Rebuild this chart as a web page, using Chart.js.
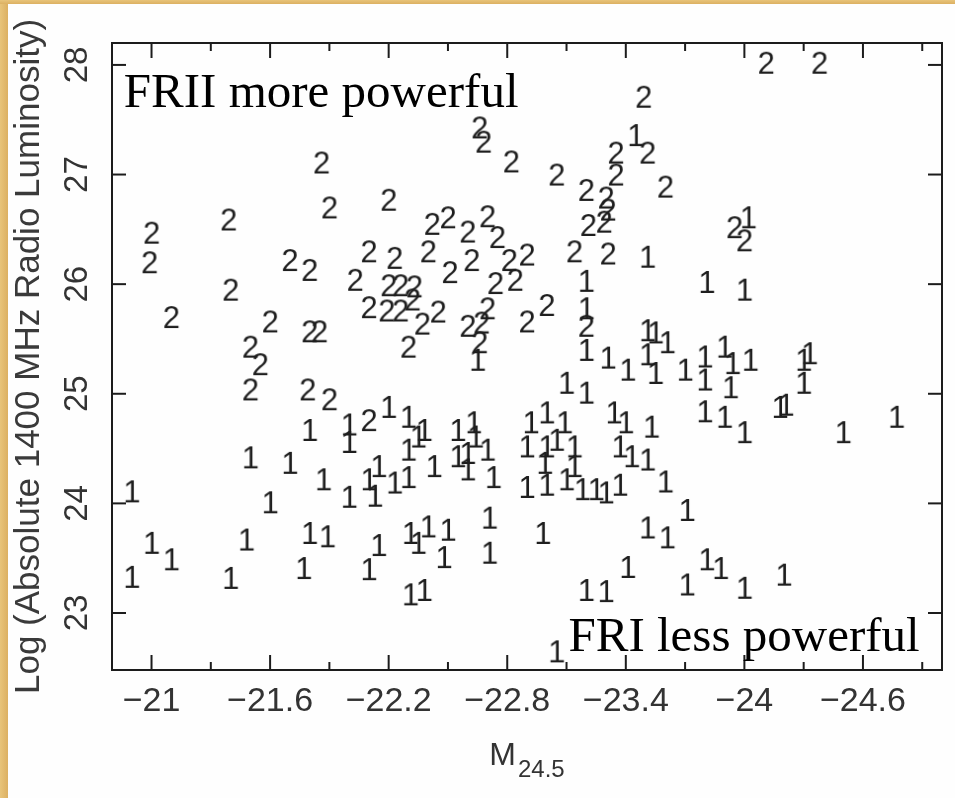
<!DOCTYPE html>
<html>
<head>
<meta charset="utf-8">
<script src="https://cdn.jsdelivr.net/npm/chart.js@4.4.1/dist/chart.umd.min.js"></script>
<style>
  html, body { margin: 0; padding: 0; background: #ffffff; }
  #wrap { position: relative; width: 955px; height: 798px; overflow: hidden; background: #fefefe; }
  #bL { position: absolute; left: 0; top: 0; width: 8px; height: 798px; background: linear-gradient(90deg, #e8c47a, #dcb062); }
  #bT { position: absolute; left: 0; top: 0; width: 955px; height: 4px; background: linear-gradient(180deg, #e8c47a, #dcb062); }
  canvas { position: absolute; left: 0; top: 0; }
</style>
</head>
<body>
<div id="wrap">
  <div id="bL"></div><div id="bT"></div>
  <canvas id="c" width="955" height="798"></canvas>
</div>
<script>
// ---------- data ----------
const fr1X = [-23.45,-24.02,-23.51,-23.20,-23.81,-24.00,-23.20,-22.65,-23.20,-23.31,-23.41,-23.51,-23.55,-23.61,-23.51,-23.55,-23.70,-23.80,-23.80,-23.90,-23.94,-23.93,-24.03,-24.30,-24.33,-24.30,-23.10,-23.20,-23.80,-23.90,-24.00,-24.18,-24.21,-24.50,-24.77,-21.80,-22.00,-22.00,-22.20,-22.30,-21.50,-21.70,-21.87,-22.00,-22.13,-22.10,-22.15,-22.23,-20.90,-21.60,-22.38,-22.35,-22.55,-22.63,-22.64,-22.60,-22.55,-22.60,-22.70,-22.73,-22.30,-22.30,-22.43,-22.92,-23.00,-23.09,-22.90,-23.00,-23.05,-23.14,-22.99,-23.14,-23.00,-22.90,-23.10,-23.18,-23.25,-23.30,-23.37,-23.34,-23.40,-23.53,-23.37,-23.43,-23.51,-23.60,-23.71,-21.00,-21.10,-20.90,-21.48,-21.40,-21.80,-21.89,-21.77,-22.15,-22.10,-22.31,-22.35,-22.40,-22.50,-22.48,-22.71,-22.71,-22.31,-22.38,-22.98,-23.20,-23.30,-23.41,-23.51,-23.61,-23.71,-23.81,-23.88,-24.00,-24.20,-23.05];
const fr1Y = [27.36,26.61,26.25,26.03,26.02,25.95,25.78,25.31,25.40,25.33,25.22,25.58,25.56,25.47,25.36,25.19,25.22,25.34,25.13,25.43,25.28,25.06,25.31,25.31,25.37,25.10,25.10,25.01,24.84,24.79,24.65,24.88,24.90,24.65,24.79,24.67,24.72,24.56,24.88,24.79,24.42,24.37,24.22,24.06,24.07,24.22,24.34,24.19,24.11,24.01,24.67,24.61,24.67,24.74,24.61,24.46,24.43,24.31,24.49,24.24,24.49,24.24,24.34,24.74,24.83,24.74,24.52,24.52,24.58,24.52,24.37,24.34,24.17,24.15,24.22,24.13,24.13,24.10,24.17,24.83,24.74,24.70,24.52,24.43,24.40,24.20,23.94,23.64,23.49,23.33,23.67,23.32,23.73,23.70,23.41,23.62,23.40,23.73,23.64,23.79,23.76,23.51,23.87,23.55,23.17,23.21,23.73,23.21,23.20,23.42,23.78,23.69,23.26,23.49,23.41,23.23,23.35,22.65];

const fr2X = [-24.11,-24.38,-23.49,-22.66,-22.68,-23.51,-23.35,-22.82,-21.86,-23.05,-23.35,-23.60,-23.20,-23.30,-23.31,-22.20,-21.90,-21.39,-22.42,-22.50,-22.60,-22.70,-22.75,-23.21,-23.29,-21.00,-23.95,-24.00,-20.99,-21.70,-21.80,-22.10,-22.23,-22.40,-22.51,-22.62,-22.81,-22.90,-23.14,-23.31,-21.40,-22.03,-22.20,-22.26,-22.33,-22.74,-22.84,-23.00,-21.10,-21.60,-22.10,-22.19,-22.26,-22.32,-22.45,-22.37,-22.70,-22.67,-22.60,-22.90,-23.20,-21.50,-21.55,-21.50,-21.80,-21.85,-22.30,-21.79,-21.90,-22.10,-22.66];
const fr2Y = [28.02,28.02,27.71,27.43,27.30,27.20,27.20,27.12,27.11,27.00,27.00,26.89,26.86,26.79,26.68,26.77,26.70,26.59,26.55,26.61,26.48,26.62,26.43,26.54,26.57,26.47,26.52,26.40,26.20,26.22,26.13,26.30,26.24,26.30,26.11,26.22,26.22,26.27,26.30,26.28,25.95,26.04,25.99,25.99,25.98,26.01,26.04,25.81,25.70,25.66,25.79,25.76,25.76,25.86,25.75,25.64,25.78,25.65,25.62,25.66,25.62,25.43,25.27,25.04,25.57,25.57,25.43,25.04,24.95,24.76,25.47];

const xLabelValues = [-21, -21.6, -22.2, -22.8, -23.4, -24, -24.6];
const xTickLabels  = ['\u221221', '\u221221.6', '\u221222.2', '\u221222.8', '\u221223.4', '\u221224', '\u221224.6'];
const xMinorValues = [-21.3, -21.9, -22.5, -23.1, -23.7, -24.3, -24.9];
const yTickValues  = [23, 24, 25, 26, 27, 28];
const yTickLabels  = ['23', '24', '25', '26', '27', '28'];

const yTitle = 'Log (Absolute 1400 MHz Radio Luminosity)';
const xTitleMain = 'M';
const xTitleSub = '24.5';
const annotTop = { text: 'FRII more powerful', x: -20.86, y: 27.62 };
const annotBottom = { text: 'FRI less powerful', x: -23.11, y: 22.65 };

// ---------- glyph markers ----------
function glyph(ch) {
  const c = document.createElement('canvas');
  c.width = 24; c.height = 32;
  const g = c.getContext('2d');
  g.fillStyle = '#1e1e1e';
  g.font = '31px "Liberation Sans", Arial, sans-serif';
  g.textAlign = 'center';
  g.textBaseline = 'alphabetic';
  g.fillText(ch, 12, 27);
  return c;
}
const g1 = glyph('1');
const g2 = glyph('2');

const pts1 = fr1X.map((x, i) => ({ x, y: fr1Y[i] }));
const pts2 = fr2X.map((x, i) => ({ x, y: fr2Y[i] }));

const INK = '#1c1c1c';

const framePlugin = {
  id: 'frameTicks',
  afterDatasetsDraw(chart) {
    const { ctx, chartArea: a, scales } = chart;
    const xs = scales.x, ys = scales.y;
    ctx.save();
    ctx.strokeStyle = INK;
    ctx.lineWidth = 2;
    ctx.strokeRect(a.left, a.top, a.right - a.left, a.bottom - a.top);
    const line = (x1, y1, x2, y2) => { ctx.beginPath(); ctx.moveTo(x1, y1); ctx.lineTo(x2, y2); ctx.stroke(); };
    xLabelValues.forEach(v => {
      const px = xs.getPixelForValue(v);
      line(px, a.bottom, px, a.bottom - 15);
      line(px, a.top, px, a.top + 15);
    });
    xMinorValues.forEach(v => {
      const px = xs.getPixelForValue(v);
      line(px, a.bottom, px, a.bottom - 8);
      line(px, a.top, px, a.top + 8);
    });
    yTickValues.forEach(v => {
      const py = ys.getPixelForValue(v);
      line(a.left, py, a.left + 14, py);
      line(a.right, py, a.right - 14, py);
    });
    // annotations
    ctx.fillStyle = '#000';
    ctx.font = '49px "Liberation Serif", "Times New Roman", serif';
    ctx.textAlign = 'left';
    ctx.textBaseline = 'alphabetic';
    ctx.fillText(annotTop.text, xs.getPixelForValue(annotTop.x), ys.getPixelForValue(annotTop.y));
    ctx.fillText(annotBottom.text, xs.getPixelForValue(annotBottom.x), ys.getPixelForValue(annotBottom.y));
    // x axis title with subscript
    ctx.fillStyle = '#333';
    ctx.font = '32px "Liberation Sans", Arial, sans-serif';
    const wM = ctx.measureText(xTitleMain).width;
    ctx.font = '24px "Liberation Sans", Arial, sans-serif';
    const wS = ctx.measureText(xTitleSub).width;
    const x0 = (a.left + a.right) / 2 - (wM + wS + 2) / 2;
    ctx.font = '32px "Liberation Sans", Arial, sans-serif';
    ctx.fillText(xTitleMain, x0, a.bottom + 95);
    ctx.font = '24px "Liberation Sans", Arial, sans-serif';
    ctx.fillText(xTitleSub, x0 + wM + 2, a.bottom + 107);
    ctx.restore();
  }
};

new Chart(document.getElementById('c'), {
  type: 'scatter',
  data: {
    datasets: [
      { label: 'FRI', data: pts1, pointStyle: g1, pointRadius: 12, showLine: false },
      { label: 'FRII', data: pts2, pointStyle: g2, pointRadius: 12, showLine: false }
    ]
  },
  options: {
    responsive: false,
    animation: false,
    events: [],
    layout: { padding: { left: 0, top: 43, right: 2, bottom: 0 } },
    plugins: { legend: { display: false }, tooltip: { enabled: false } },
    scales: {
      x: {
        type: 'linear',
        reverse: true,
        min: -25.0,
        max: -20.8,
        afterBuildTicks: s => { s.ticks = xLabelValues.map(v => ({ value: v })); },
        afterFit: s => { s.height = 128; },
        grid: { display: false, drawTicks: false },
        border: { display: false },
        ticks: {
          autoSkip: false, maxRotation: 0, minRotation: 0, padding: 11,
          color: '#333',
          font: { family: '"Liberation Sans", Arial, sans-serif', size: 34 },
          callback: (v, i) => xTickLabels[i]
        }
      },
      y: {
        type: 'linear',
        min: 22.48,
        max: 28.2,
        afterBuildTicks: s => { s.ticks = yTickValues.map(v => ({ value: v })); },
        afterFit: s => { s.width = 112; },
        grid: { display: false, drawTicks: false },
        border: { display: false },
        title: {
          display: true,
          text: yTitle,
          color: '#3a3a3a',
          font: { family: '"Liberation Sans", Arial, sans-serif', size: 35 },
          padding: { top: 8, bottom: 0 }
        },
        ticks: {
          minRotation: 90, maxRotation: 90,
          crossAlign: 'center',
          padding: 16,
          color: '#333',
          font: { family: '"Liberation Sans", Arial, sans-serif', size: 33 },
          callback: (v, i) => yTickLabels[i]
        }
      }
    }
  },
  plugins: [framePlugin]
});
</script>
</body>
</html>
